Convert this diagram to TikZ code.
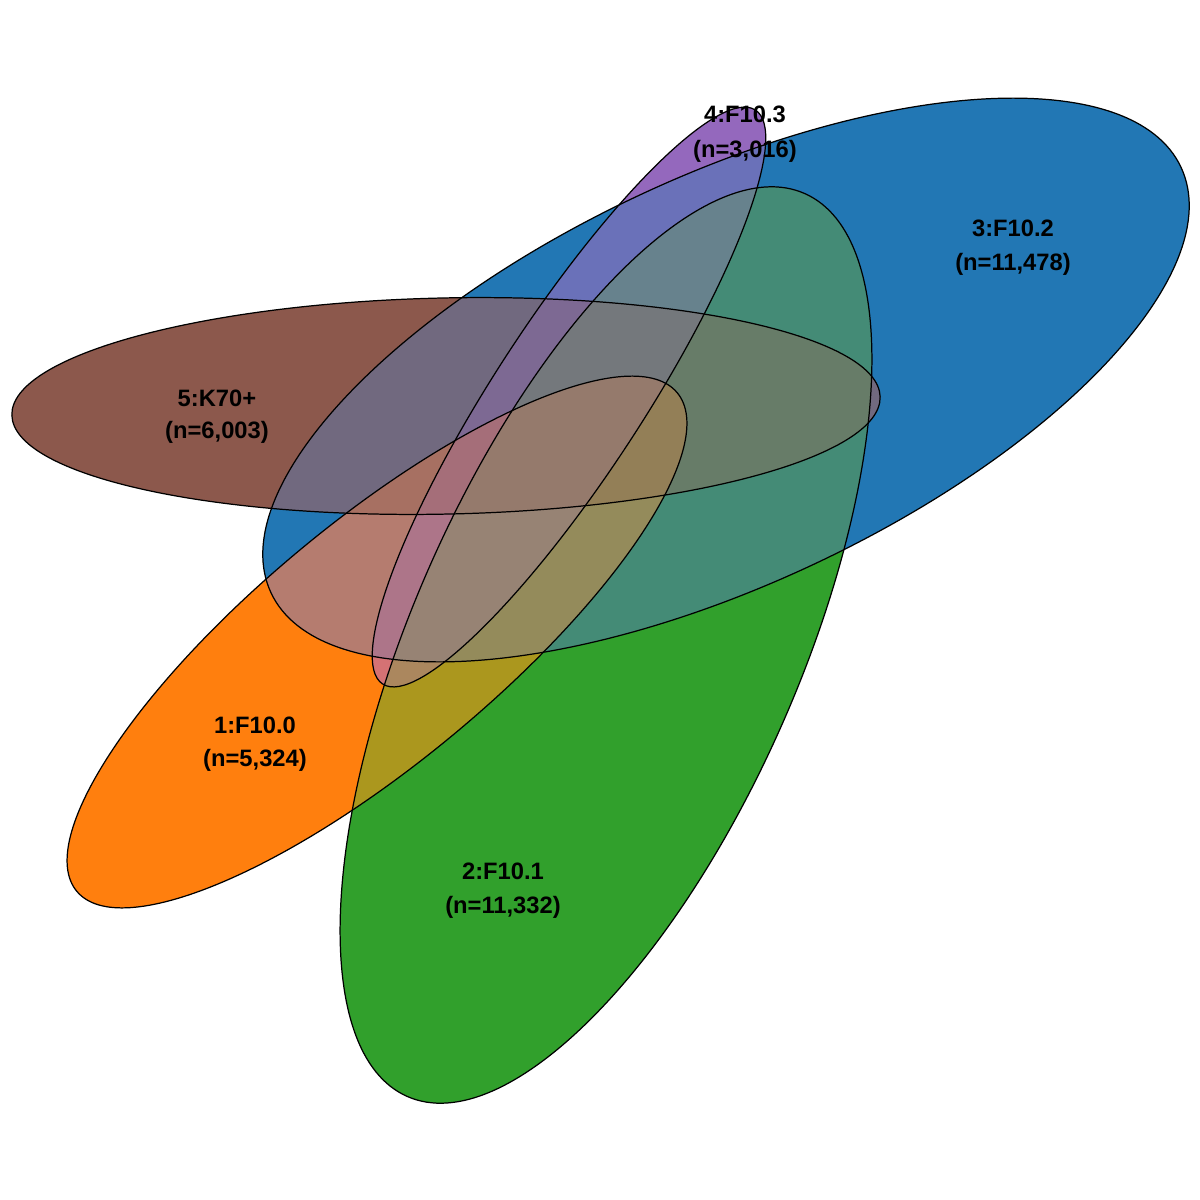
\documentclass[tikz,border=0pt]{standalone}
\usepackage{fontspec}
\setmainfont{Liberation Sans}
\makeatletter
% sRGB -> (f(X),f(Y),f(Z)) of CIE Lab, stored per set id
\newcommand\deflab[4]{%
  \pgfmathsetmacro\vnRl{((#2/255+0.055)/1.055)^2.4}%
  \pgfmathsetmacro\vnGl{((#3/255+0.055)/1.055)^2.4}%
  \pgfmathsetmacro\vnBl{((#4/255+0.055)/1.055)^2.4}%
  \pgfmathsetmacro\vnt{(0.4124*\vnRl+0.3576*\vnGl+0.1805*\vnBl)/0.9505}%
  \pgfmathsetmacro\vnt{(\vnt)^(1/3)}%
  \expandafter\xdef\csname fx#1\endcsname{\vnt}%
  \pgfmathsetmacro\vnt{0.2126*\vnRl+0.7152*\vnGl+0.0722*\vnBl}%
  \pgfmathsetmacro\vnt{(\vnt)^(1/3)}%
  \expandafter\xdef\csname fy#1\endcsname{\vnt}%
  \pgfmathsetmacro\vnt{(0.0193*\vnRl+0.1192*\vnGl+0.9505*\vnBl)/1.089}%
  \pgfmathsetmacro\vnt{(\vnt)^(1/3)}%
  \expandafter\xdef\csname fz#1\endcsname{\vnt}%
}
% mean in Lab of the listed sets -> colour mixc
\newcommand\mixcolor[1]{%
  \def\vnsx{0}\def\vnsy{0}\def\vnsz{0}\def\vncnt{0}%
  \@for\vnid:=#1\do{%
    \edef\vncur{\csname fx\vnid\endcsname}\pgfmathsetmacro\vnsx{\vnsx+\vncur}%
    \edef\vncur{\csname fy\vnid\endcsname}\pgfmathsetmacro\vnsy{\vnsy+\vncur}%
    \edef\vncur{\csname fz\vnid\endcsname}\pgfmathsetmacro\vnsz{\vnsz+\vncur}%
    \pgfmathsetmacro\vncnt{\vncnt+1}%
  }%
  \pgfmathsetmacro\vntx{0.9505*(\vnsx/\vncnt)^3}%
  \pgfmathsetmacro\vnty{(\vnsy/\vncnt)^3}%
  \pgfmathsetmacro\vntz{1.089*(\vnsz/\vncnt)^3}%
  \pgfmathsetmacro\vnlr{3.2406*\vntx-1.5372*\vnty-0.4986*\vntz}%
  \pgfmathsetmacro\vnlg{-0.9689*\vntx+1.8758*\vnty+0.0415*\vntz}%
  \pgfmathsetmacro\vnlb{0.0557*\vntx-0.2040*\vnty+1.0570*\vntz}%
  \pgfmathsetmacro\vncr{min(1,max(0,1.055*(min(max(\vnlr,0.0032),1))^(1/2.4)-0.055))}%
  \pgfmathsetmacro\vncg{min(1,max(0,1.055*(min(max(\vnlg,0.0032),1))^(1/2.4)-0.055))}%
  \pgfmathsetmacro\vncb{min(1,max(0,1.055*(min(max(\vnlb,0.0032),1))^(1/2.4)-0.055))}%
  \definecolor{mixc}{rgb}{\vncr,\vncg,\vncb}%
}
\newcommand\region[1]{%
  \begin{scope}%
    \mixcolor{#1}%
    \@for\vnid:=#1\do{\expandafter\clip\csname shape\vnid\endcsname;}%
    \fill[mixc] (0,0) rectangle (1200,1200);%
  \end{scope}}
\makeatother
\deflab{A}{255}{127}{14}
\deflab{B}{44}{160}{44}
\deflab{C}{31}{119}{180}
\deflab{D}{148}{103}{189}
\deflab{E}{140}{86}{75}
% set shapes: ellipses (centres in pixel coordinates of the reference, 1px = 0.01cm)
\def\shapeA{(377,642) ellipse[x radius=3.90cm, y radius=1.20cm, rotate=39.7]}
\def\shapeB{(606,645) ellipse[x radius=4.93cm, y radius=1.93cm, rotate=66.25]}
\def\shapeC{(726,380) ellipse[x radius=5.02cm, y radius=2.04cm, rotate=25.06]}
\def\shapeD{(569,397) ellipse[x radius=3.42cm, y radius=0.75cm, rotate=57]}
\def\shapeE{(446,406) ellipse[x radius=4.34cm, y radius=1.08cm, rotate=1.2]}
\begin{document}
\begin{tikzpicture}[x=0.01cm,y=-0.01cm,
  lbl/.style={font=\fontsize{6.75}{8}\selectfont\bfseries, inner sep=0pt, text=black},
  outl/.style={draw=black, line width=0.35pt}]
\useasboundingbox (0,0) rectangle (1200,1200);
\fill[white] (0,0) rectangle (1200,1200);
% single sets
\region{A}\region{B}\region{C}\region{D}\region{E}
% pairs
\region{A,B}\region{A,C}\region{A,D}\region{A,E}\region{B,C}
\region{B,D}\region{B,E}\region{C,D}\region{C,E}\region{D,E}
% triples
\region{A,B,C}\region{A,B,D}\region{A,B,E}\region{A,C,D}\region{A,C,E}
\region{A,D,E}\region{B,C,D}\region{B,C,E}\region{B,D,E}\region{C,D,E}
% quadruples
\region{A,B,C,D}\region{A,B,C,E}\region{A,B,D,E}\region{A,C,D,E}\region{B,C,D,E}
% all five
\region{A,B,C,D,E}
% outlines
\draw[outl] \shapeC;
\draw[outl] \shapeB;
\draw[outl] \shapeE;
\draw[outl] \shapeA;
\draw[outl] \shapeD;
% labels
\node[lbl] (l4a) at (745,114) {4:F10.3};
\node[lbl] (l4b) at (745,151) {(n=3,016)};
\node[lbl] (l3a) at (1013,228) {3:F10.2};
\node[lbl] (l3b) at (1013,264) {(n=11,478)};
\node[lbl] (l5a) at (217,398) {5:K70+};
\node[lbl] (l5b) at (217,432) {(n=6,003)};
\node[lbl] (l1a) at (255,725) {1:F10.0};
\node[lbl] (l1b) at (255,760) {(n=5,324)};
\node[lbl] (l2a) at (503,871) {2:F10.1};
\node[lbl] (l2b) at (503,907) {(n=11,332)};
\end{tikzpicture}
\end{document}
